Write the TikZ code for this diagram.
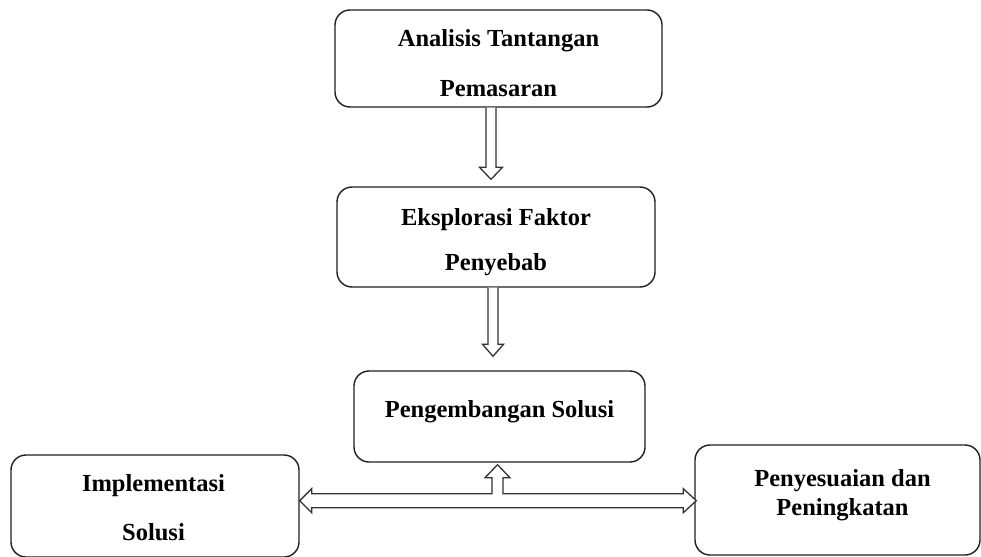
\documentclass[tikz,border=0pt]{standalone}
\usepackage{fontspec}
\setmainfont{Liberation Serif}[UprightFont={* Bold}, BoldFont={* Bold}]
\usetikzlibrary{calc}
\tikzset{
  box/.style={draw=black!88, line width=1.4pt, rounded corners=15pt, inner sep=0pt},
  txt/.style={font=\fontsize{24.5}{29}\selectfont, align=center, inner sep=0pt, text=black},
  arr/.style={draw=black!80, line width=1.3pt, fill=white, line join=miter}
}
\begin{document}
\begin{tikzpicture}[x=1pt,y=-1pt]
\useasboundingbox (0,0) rectangle (981,556);
% boxes
\node[box, minimum width=327pt, minimum height=97pt] (b1) at (498.5,58.5) {};
\node[box, minimum width=318pt, minimum height=100pt] (b2) at (496,237) {};
\node[box, minimum width=291pt, minimum height=91pt] (b3) at (499.5,416.5) {};
\node[box, minimum width=288pt, minimum height=102pt] (b4) at (155,506) {};
\node[box, minimum width=285pt, minimum height=110pt] (b5) at (837.5,500) {};
% texts
\node[txt] (t1) at ($(b1.center)+(0,4.5)$) {Analisis Tantangan\\[21pt]Pemasaran};
\node[txt] (t2) at ($(b2.center)+(0,5.5)$) {Eksplorasi Faktor\\[16pt]Penyebab};
\node[txt] (t3) at ($(b3.center)+(0,-4.5)$) {Pengembangan Solusi};
\node[txt] (t4) at ($(b4.center)+(-1.5,2)$) {Implementasi\\[20pt]Solusi};
\node[txt] (t5) at ($(b5.center)+(5,-4.5)$) {Penyesuaian dan\\Peningkatan};
% arrow 1
\coordinate (s1) at ($(b1.south)+(-7.5,0)$);
\coordinate (e1) at ($(s1 |- b2.north)+(0,-7)$);
\draw[arr] ($(s1)+(-5,0)$) -- ($(e1)+(-5,-12)$) -- ($(e1)+(-11.5,-12)$) -- (e1)
  -- ($(e1)+(11.5,-12)$) -- ($(e1)+(5,-12)$) -- ($(s1)+(5,0)$);
% arrow 2
\coordinate (s2) at ($(b2.south)+(-3,0)$);
\coordinate (e2) at ($(s2 |- b3.north)+(0,-14)$);
\draw[arr] ($(s2)+(-5,0)$) -- ($(e2)+(-5,-12)$) -- ($(e2)+(-10.5,-12)$) -- (e2)
  -- ($(e2)+(10.5,-12)$) -- ($(e2)+(5,-12)$) -- ($(s2)+(5,0)$);
% T arrow
\coordinate (m) at ($(b3.south)+(-2,38)$);
\coordinate (L) at (b4.east |- m);
\coordinate (R) at ($(b5.west |- m)+(2,0)$);
\coordinate (U) at ($(m |- b3.south)+(0,2)$);
\draw[arr] (L) -- ($(L)+(12,-12)$) -- ($(L)+(12,-7)$) -- ($(m)+(-5.5,-7)$)
  -- ($(U)+(-5.5,13)$) -- ($(U)+(-12.5,13)$) -- (U) -- ($(U)+(12.5,13)$)
  -- ($(U)+(5.5,13)$) -- ($(m)+(5.5,-7)$) -- ($(R)+(-13,-7)$) -- ($(R)+(-13,-12)$)
  -- (R) -- ($(R)+(-13,12)$) -- ($(R)+(-13,7)$) -- ($(L)+(12,7)$) -- ($(L)+(12,12)$) -- cycle;
\end{tikzpicture}
\end{document}
